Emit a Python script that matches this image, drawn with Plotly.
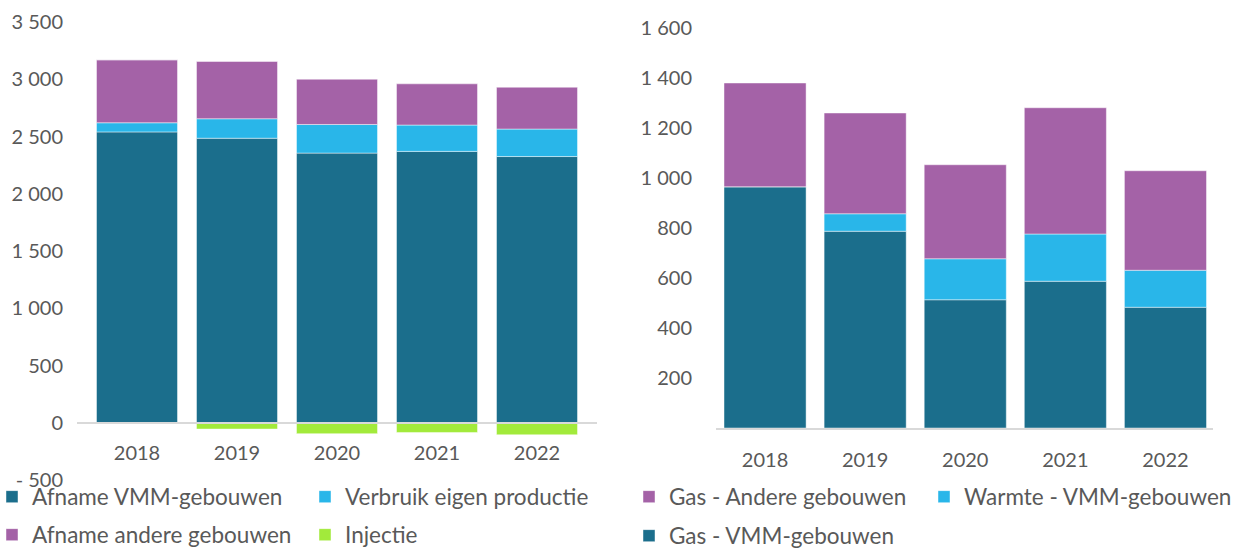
import plotly.graph_objects as go

# ---- data ----
years = ["2018", "2019", "2020", "2021", "2022"]

el_afname_vmm = [2540, 2485, 2355, 2370, 2325]
el_verbruik_eigen = [80, 170, 250, 230, 240]
el_afname_andere = [550, 500, 395, 360, 365]
el_injectie = [0, -55, -95, -85, -105]

gas_vmm = [965, 787, 513, 587, 483]
warmte_vmm = [0, 70, 164, 189, 148]
gas_andere = [415, 403, 376, 505, 398]

left_tickvals = [-500, 0, 500, 1000, 1500, 2000, 2500, 3000, 3500]
left_ticktext = ["- 500", "0", "500", "1 000", "1 500", "2 000", "2 500", "3 000", "3 500"]
right_tickvals = [200, 400, 600, 800, 1000, 1200, 1400, 1600]
right_ticktext = ["200", "400", "600", "800", "1 000", "1 200", "1 400", "1 600"]

# ---- style ----
W, H = 1237, 548
C_DARK = "#1B6E8C"
C_LIGHT = "#29B6E9"
C_PURPLE = "#A462A7"
C_GREEN = "#A2EA3B"
TXT = "#595959"
FONT = dict(family="Lato", size=20, color=TXT)
LEG_FONT = dict(family="Lato", size=22.5, color=TXT)
EDGE = dict(width=1, color="rgba(255,255,255,0.45)")


def px(x):
    return x / W


def py(y):
    return 1 - y / H


fig = go.Figure()

left_series = [
    ("Afname VMM-gebouwen", el_afname_vmm, C_DARK, "legend"),
    ("Verbruik eigen productie", el_verbruik_eigen, C_LIGHT, "legend2"),
    ("Afname andere gebouwen", el_afname_andere, C_PURPLE, "legend3"),
    ("Injectie", el_injectie, C_GREEN, "legend4"),
]
for name, vals, col, lg in left_series:
    fig.add_trace(go.Bar(x=years, y=vals, name=name, marker=dict(color=col, line=EDGE),
                         width=0.81, xaxis="x", yaxis="y", legend=lg))

right_series = [
    ("Gas - VMM-gebouwen", gas_vmm, C_DARK, "legend5"),
    ("Warmte - VMM-gebouwen", warmte_vmm, C_LIGHT, "legend6"),
    ("Gas - Andere gebouwen", gas_andere, C_PURPLE, "legend7"),
]
for name, vals, col, lg in right_series:
    fig.add_trace(go.Bar(x=years, y=vals, name=name, marker=dict(color=col, line=EDGE),
                         width=0.82, xaxis="x2", yaxis="y2", legend=lg))

# left axes
ly0, ly1 = py(480), py(22)
zero_pos = ly0 + (ly1 - ly0) * (500 / 4000)

layout = dict(
    width=W, height=H,
    margin=dict(l=0, r=0, t=0, b=0, autoexpand=False),
    paper_bgcolor="white", plot_bgcolor="white",
    barmode="relative",
    font=FONT,
    xaxis=dict(domain=[px(77), px(597)], range=[-0.6, 4.6], anchor="free", position=zero_pos,
               showline=True, linecolor="#D9D9D9", linewidth=2, ticks="", showgrid=False,
               zeroline=False, tickfont=FONT, ticklabelstandoff=12, automargin=False),
    yaxis=dict(domain=[ly0, ly1], range=[-500, 3500], anchor="x", tickvals=left_tickvals,
               ticktext=left_ticktext, showgrid=False, zeroline=False, showline=False,
               ticks="", tickfont=FONT, ticklabelstandoff=13, automargin=False),
    xaxis2=dict(domain=[px(716), px(1213)], range=[-0.49, 4.475], anchor="y2",
                showline=True, linecolor="#D9D9D9", linewidth=2, ticks="", showgrid=False,
                zeroline=False, tickfont=FONT, ticklabelstandoff=13, automargin=False),
    yaxis2=dict(domain=[py(428), py(28)], range=[0, 1600], anchor="x2", tickvals=right_tickvals,
                ticktext=right_ticktext, showgrid=False, zeroline=False, showline=False,
                ticks="", tickfont=FONT, ticklabelstandoff=23, automargin=False),
    showlegend=True,
)

legend_pos = {
    "legend": (32, 497),
    "legend2": (345, 497),
    "legend3": (32, 535),
    "legend4": (345, 535),
    "legend7": (669, 497),
    "legend6": (964, 497),
    "legend5": (669, 536),
}
for lg, (tx, ty) in legend_pos.items():
    layout[lg] = dict(x=px(tx - 40), y=py(ty), xanchor="left", yanchor="middle",
                      orientation="h", bgcolor="rgba(0,0,0,0)", borderwidth=0,
                      font=LEG_FONT, itemclick=False, itemdoubleclick=False)

fig.update_layout(**layout)
fig.write_html("out.html", config={"displayModeBar": False},
               post_script="document.body.style.margin='0';document.body.style.overflow='hidden';")
